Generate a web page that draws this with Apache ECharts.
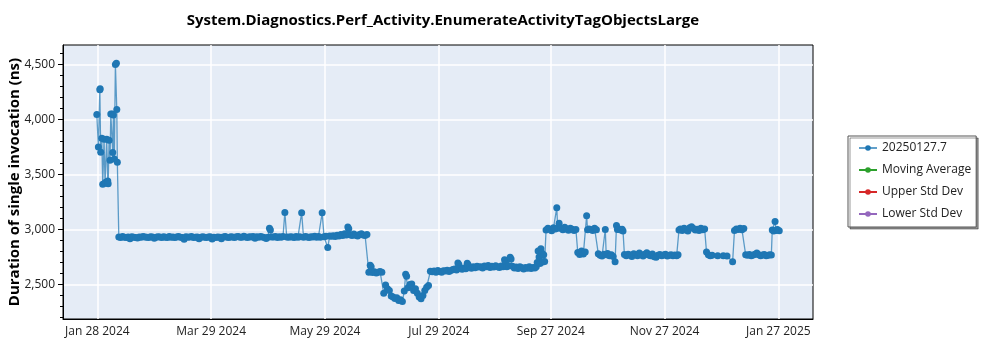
<!DOCTYPE html>
<html>
<head>
<meta charset="utf-8">
<script src="https://cdn.jsdelivr.net/npm/echarts@6/dist/echarts.min.js"></script>
<style>
  html, body { margin: 0; padding: 0; background: #fff; }
  #chart { width: 1000px; height: 350px; }
</style>
</head>
<body>
<div id="chart"></div>
<script>
// ---- Labels ----
const chartTitle = 'System.Diagnostics.Perf_Activity.EnumerateActivityTagObjectsLarge';
const yAxisTitle = 'Duration of single invocation (ns)';
const seriesNames = ['20250127.7', 'Moving Average', 'Upper Std Dev', 'Lower Std Dev'];
const seriesColors = ['#1f77b4', '#2ca02c', '#d62728', '#9467bd'];

// ---- Axis ticks ----
const xTickDates = ['2024-01-28', '2024-03-29', '2024-05-29', '2024-07-29', '2024-09-27', '2024-11-27', '2025-01-27'];
const xTickLabels = ['Jan 28 2024', 'Mar 29 2024', 'May 29 2024', 'Jul 29 2024', 'Sep 27 2024', 'Nov 27 2024', 'Jan 27 2025'];
const yTickValues = [2500, 3000, 3500, 4000, 4500];
const yTickLabels = ['2,500', '3,000', '3,500', '4,000', '4,500'];

// ---- Runs: first unstable stretch (several runs per day) ----
const earlyTimes = [
  '2024-01-27 17:00', '2024-01-28 13:00', '2024-01-29 08:00', '2024-01-29 12:00', '2024-01-29 19:00',
  '2024-01-30 09:00', '2024-01-30 21:00', '2024-01-31 14:00', '2024-02-01 03:00', '2024-02-01 10:00',
  '2024-02-02 00:00', '2024-02-02 14:00', '2024-02-02 19:00', '2024-02-03 07:00', '2024-02-03 19:00',
  '2024-02-04 05:00', '2024-02-05 00:00', '2024-02-05 06:00', '2024-02-05 14:00', '2024-02-06 02:00',
  '2024-02-06 16:00', '2024-02-07 05:00', '2024-02-07 10:00', '2024-02-07 17:00'
];
const earlyValues = [
  4046, 3750, 4270, 4280, 3703,
  3830, 3410, 3820, 3420, 3430,
  3820, 3440, 3415, 3810, 3630,
  4050, 4050, 3700, 4040, 3640,
  4500, 4510, 4090, 3610
];

// ---- Runs: daily values per month (index = day - 1, null = no run, [a, b] = two runs) ----
const feb2024 = [null, null, null, null, null, null, null,
  2932, 2928, 2935, 2930, 2926, 2931, 2915, 2934, 2930, 2927, 2922, 2931, 2929, 2936,
  2932, 2930, 2928, 2933, 2931, 2919, 2930, 2934];
const mar2024 = [2931, 2928, 2934, 2930, 2926, 2935, 2929, 2932, 2927, 2931, 2936, 2930, 2928, 2912, 2933,
  2929, 2931, 2935, 2927, 2930, 2932, 2915, 2929, 2934, 2930, 2926, 2931, 2933, 2914, 2930, 2928];
const apr2024 = [2932, 2929, 2916, 2931, 2935, 2930, 2928, 2934, 2931, 2927, 2933, 2936, 2930, 2929, 2938,
  2932, 2928, 2934, 2931, 2937, 2920, 2933, 2929, 2935, 2931, 2928, 2918, 2930, [3012, 2996], 2932];
const may2024 = [2931, 2935, 2928, 2933, 2930, 2936, 3155, 2932, 2929, 2934, 2931, 2927, 2935, 2930, 2933,
  3153, 2929, 2936, 2931, 2928, 2934, 2932, 2938, 2930, 2935, 2929, 3152, 2933, 2938, 2835, 2940];
const jun2024 = [2938, 2942, 2935, 2948, 2940, 2955, 2945, 2960, 2950, [3022, 3006], 2952, 2945, 2958, 2948, 2940,
  2955, 2962, 2950, 2945, 2955, 2612, [2675, 2660], 2608, 2615, 2605, 2612, 2618, 2610, 2420, 2495];
const jul2024 = [2460, 2445, 2395, 2385, 2372, 2380, 2355, 2362, 2345, 2440, [2592, 2575], 2470, 2500, 2505, 2445,
  2460, 2420, 2385, 2370, 2400, 2445, 2475, 2490, 2620, 2615, 2622, 2610, 2628, 2618, 2612, 2624];
const aug2024 = [2622, 2630, 2618, 2628, 2635, 2640, 2632, [2695, 2682], 2645, 2638, 2650, 2642, [2692, 2680], 2655, 2648,
  2660, 2652, 2665, 2658, 2662, 2650, 2668, 2660, 2672, 2655, 2665, 2658, 2670, 2662, 2655, 2668];
const sep2024 = [2660, [2724, 2708], 2662, 2670, [2748, 2732], 2665, 2650, 2658, 2645, 2660, 2652, 2640, 2655, 2648, 2660,
  2645, 2655, 2650, [2662, 2700], [2805, 2750], [2690, 2825], [2785, 2705], [2770, 2708], 2995, 3010,
  3002, 2988, 3015, 3005, [3198, 3010]];
const oct2024 = [3057, 3012, 2998, 3020, 3005, 2992, 3010, 3002, 2990, 3000, 2790, 2772, 2805, 2778, 2795,
  [3125, 2998], 3005, 3000, 2990, 3012, 2998, 2780, 2765, 2758, 2775, [3000, 2770], 2782, 2760, 2770, 2755, 2707];
const nov2024 = [[3036, 3000], 3005, 2995, [3002, 2985], 2772, 2760, 2775, 2768, 2755, 2780, 2772, 2762, 2785, 2770, 2758,
  2775, 2788, 2768, 2760, 2778, 2752, 2748, 2765, 2772, 2760, 2768, 2775, 2758, 2765, 2770];
const dec2024 = [2762, 2768, 2760, [2770, 2995], 3005, 2990, 3010, 3000, 2985, 3015, 3025, 3008, 2995, 3002, 2990,
  3010, 2998, 3005, 2795, 2770, 2762, 2765, null, null, 2760, null, null, 2762, null, 2758, null];
const jan2025 = [null, 2707, 2990, 3005, 3000, 3012, 2998, 3008, 2770, 2765, 2772, 2760, 2768, 2775, 2785,
  2770, 2762, 2768, 2772, 2760, 2765, 2770, [2768, 2995], 2985, [3072, 2990], 3000, 2988];

const months = [
  ['2024-02', feb2024], ['2024-03', mar2024], ['2024-04', apr2024], ['2024-05', may2024],
  ['2024-06', jun2024], ['2024-07', jul2024], ['2024-08', aug2024], ['2024-09', sep2024],
  ['2024-10', oct2024], ['2024-11', nov2024], ['2024-12', dec2024], ['2025-01', jan2025]
];

// ---- Helpers ----
function toUTC(s) {
  const [d, t] = s.split(' ');
  const [y, m, dd] = d.split('-').map(Number);
  const [hh, mm] = (t || '00:00').split(':').map(Number);
  return Date.UTC(y, m - 1, dd, hh, mm);
}

const points = earlyTimes.map((t, i) => [toUTC(t), earlyValues[i]]);
months.forEach(([ym, vals]) => {
  const [y, m] = ym.split('-').map(Number);
  vals.forEach((v, i) => {
    if (v == null) return;
    const runs = Array.isArray(v) ? v : [v];
    runs.forEach((val, k) => {
      const hour = runs.length === 1 ? 12 : 6 + k * 12 / (runs.length - 1);
      points.push([Date.UTC(y, m - 1, i + 1, hour), val]);
    });
  });
});

const xTickValues = xTickDates.map(toUTC);
const xMin = toUTC('2024-01-09 14:00');
const xMax = toUTC('2025-02-14 14:00');
const yMin = 2186;
const yMax = 4677;
const yMinorTicks = [];
for (let v = 2200; v <= 4600; v += 100) yMinorTicks.push(v);

const fontFamily = '"Open Sans", "Noto Sans", sans-serif';

const chart = echarts.init(document.getElementById('chart'), null, { renderer: 'canvas' });

const option = {
  animation: false,
  backgroundColor: '#ffffff',
  textStyle: { fontFamily: fontFamily },
  title: {
    text: chartTitle,
    left: 438,
    top: 8,
    textAlign: 'center',
    textStyle: { fontFamily: fontFamily, fontSize: 15, fontWeight: 'bold', color: '#000' }
  },
  grid: {
    left: 63, right: 187, top: 45, bottom: 31,
    show: true,
    backgroundColor: '#e5ecf6',
    borderColor: '#000',
    borderWidth: 1,
    containLabel: false,
    outerBoundsMode: 'none'
  },
  legend: {
    orient: 'vertical',
    left: 848,
    top: 136,
    itemWidth: 18,
    itemHeight: 7,
    itemGap: 8,
    padding: [5, 5, 6, 10],
    backgroundColor: '#fff',
    borderColor: '#555',
    borderWidth: 1,
    borderRadius: 0,
    shadowColor: 'rgba(0,0,0,0.4)',
    shadowOffsetX: 2,
    shadowOffsetY: 2,
    shadowBlur: 0,
    selectedMode: false,
    textStyle: { fontFamily: fontFamily, fontSize: 12, color: '#222', lineHeight: 14 },
    data: seriesNames
  },
  xAxis: {
    type: 'value',
    min: xMin,
    max: xMax,
    axisLine: { show: true, lineStyle: { color: '#000', width: 1 } },
    axisTick: { show: false, customValues: xTickValues },
    axisLabel: {
      customValues: xTickValues,
      formatter: (v) => xTickLabels[xTickValues.indexOf(v)] || '',
      color: '#222',
      fontSize: 12,
      fontFamily: fontFamily,
      margin: 7
    },
    splitLine: { show: true, lineStyle: { color: '#ffffff', width: 1.5 } }
  },
  yAxis: [
    {
      type: 'value',
      min: yMin,
      max: yMax,
      name: yAxisTitle,
      nameLocation: 'middle',
      nameGap: 41,
      nameMoveOverlap: false,
      nameTextStyle: { fontFamily: fontFamily, fontSize: 15, fontWeight: 'bold', color: '#000' },
      axisLine: { show: true, lineStyle: { color: '#000', width: 1 } },
      axisTick: { show: true, inside: false, length: 5, customValues: yTickValues, lineStyle: { color: '#000' } },
      axisLabel: {
        customValues: yTickValues,
        formatter: (v) => yTickLabels[yTickValues.indexOf(v)] || '',
        color: '#222',
        fontSize: 12,
        fontFamily: fontFamily,
        margin: 8
      },
      splitLine: { show: true, lineStyle: { color: '#ffffff', width: 1.5 } }
    },
    {
      type: 'value',
      min: yMin,
      max: yMax,
      position: 'left',
      offset: 0,
      axisLine: { show: false },
      axisLabel: { show: false },
      splitLine: { show: false },
      axisTick: { show: true, inside: false, length: 3, customValues: yMinorTicks, lineStyle: { color: '#000' } }
    }
  ],
  series: [
    {
      name: seriesNames[0],
      type: 'line',
      data: points,
      symbol: 'circle',
      symbolSize: 7,
      itemStyle: { color: seriesColors[0] },
      lineStyle: { color: seriesColors[0], width: 1.3, opacity: 0.7 },
      emphasis: { disabled: true },
      z: 3
    },
    { name: seriesNames[1], type: 'line', data: [], symbol: 'circle', itemStyle: { color: seriesColors[1] }, lineStyle: { color: seriesColors[1], width: 1 } },
    { name: seriesNames[2], type: 'line', data: [], symbol: 'circle', itemStyle: { color: seriesColors[2] }, lineStyle: { color: seriesColors[2], width: 1 } },
    { name: seriesNames[3], type: 'line', data: [], symbol: 'circle', itemStyle: { color: seriesColors[3] }, lineStyle: { color: seriesColors[3], width: 1 } }
  ]
};

chart.setOption(option);
</script>
</body>
</html>
